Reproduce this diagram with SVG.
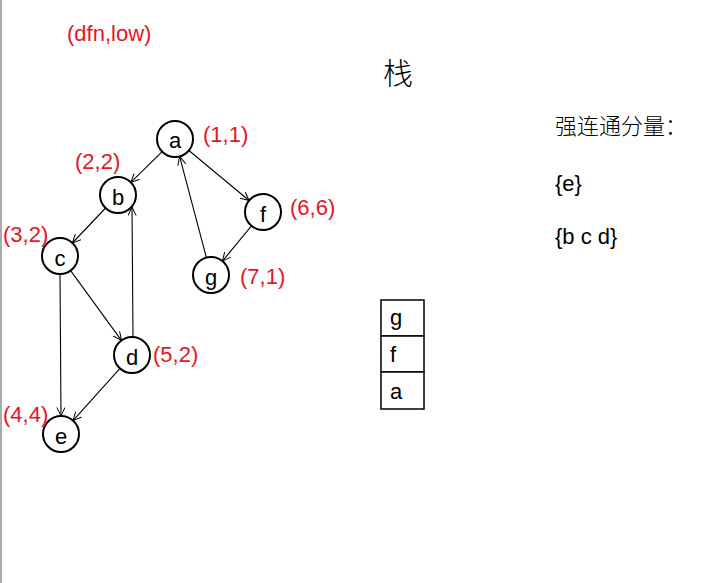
<svg xmlns="http://www.w3.org/2000/svg" width="716" height="583" viewBox="0 0 716 583">
<style>
.node circle{fill:#fff;stroke:#000;stroke-width:2}
.node text{font-family:"Liberation Sans",Arial,sans-serif;font-size:22px;fill:#000;text-anchor:middle}
.lbl{font-family:"Liberation Sans",Arial,sans-serif;font-size:22px;fill:#e8141e}
.edge{stroke:#000;stroke-width:1.1;fill:none;marker-end:url(#arr)}
.txt{font-family:"Liberation Sans",Arial,sans-serif;font-size:22px;fill:#000}
.cjk{font-family:"Liberation Sans","Noto Sans CJK SC",sans-serif;fill:#000}
.stack rect{fill:#fff;stroke:#000;stroke-width:1.5}
</style>
<defs>
<marker id="arr" viewBox="0 0 10 10" refX="9.5" refY="5" markerWidth="9" markerHeight="9" markerUnits="userSpaceOnUse" orient="auto">
<path d="M0,0.5 L9.5,5 L0,9.5" fill="none" stroke="#000" stroke-width="1.1"/>
</marker>
</defs>
<rect width="716" height="583" fill="#fff"/>
<line x1="1" y1="0" x2="1" y2="583" stroke="#aaa" stroke-width="2"/>
<g id="connectors">
<line class="edge" x1="162.2" y1="151.6" x2="130.8" y2="182.4"/>
<line class="edge" x1="188.9" y1="150.5" x2="249.1" y2="200.5"/>
<line class="edge" x1="206.4" y1="257.6" x2="179.6" y2="156.4"/>
<line class="edge" x1="105.6" y1="208" x2="72.4" y2="243"/>
<line class="edge" x1="133" y1="337" x2="132" y2="207"/>
<line class="edge" x1="70.6" y1="270.6" x2="121.4" y2="340.4"/>
<line class="edge" x1="60" y1="274" x2="61" y2="416"/>
<line class="edge" x1="120" y1="368.4" x2="73" y2="420.6"/>
<line class="edge" x1="251.5" y1="225.9" x2="222.4" y2="261.1"/>
</g>
<g id="node-a" class="node"><circle cx="175" cy="139" r="18"/><text x="175" y="148">a</text></g>
<g id="node-b" class="node"><circle cx="118" cy="195" r="18"/><text x="118" y="204.5">b</text></g>
<g id="node-c" class="node"><circle cx="60" cy="256" r="18"/><text x="60" y="265.5">c</text></g>
<g id="node-d" class="node"><circle cx="132" cy="355" r="18"/><text x="132" y="364.5">d</text></g>
<g id="node-e" class="node"><circle cx="61" cy="434" r="18"/><text x="61" y="443.5">e</text></g>
<g id="node-f" class="node"><circle cx="263" cy="212" r="18"/><text x="263" y="221.5">f</text></g>
<g id="node-g" class="node"><circle cx="211" cy="275" r="18"/><text x="211" y="284.5">g</text></g>
<g id="labels">
<text class="lbl" x="67" y="40.5">(dfn,low)</text>
<text class="lbl" x="203" y="142">(1,1)</text>
<text class="lbl" x="75" y="168.5">(2,2)</text>
<text class="lbl" x="3" y="241.5">(3,2)</text>
<text class="lbl" x="290" y="215">(6,6)</text>
<text class="lbl" x="240" y="283.5">(7,1)</text>
<text class="lbl" x="153" y="362">(5,2)</text>
<text class="lbl" x="3" y="422">(4,4)</text>
</g>
<text class="cjk" x="383" y="84" font-size="30" font-weight="300">栈</text>
<g id="stack" class="stack">
<rect x="381" y="300" width="43" height="36"/>
<rect x="381" y="336" width="43" height="36"/>
<rect x="381" y="372" width="43" height="37"/>
<text class="txt" x="390" y="325">g</text>
<text class="txt" x="390" y="362">f</text>
<text class="txt" x="390" y="399">a</text>
</g>
<g id="scc">
<text class="cjk" x="555" y="134" font-size="22" font-weight="300">强连通分量：</text>
<text class="txt" x="555" y="191">{e}</text>
<text class="txt" x="555" y="244">{b c d}</text>
</g>
</svg>
